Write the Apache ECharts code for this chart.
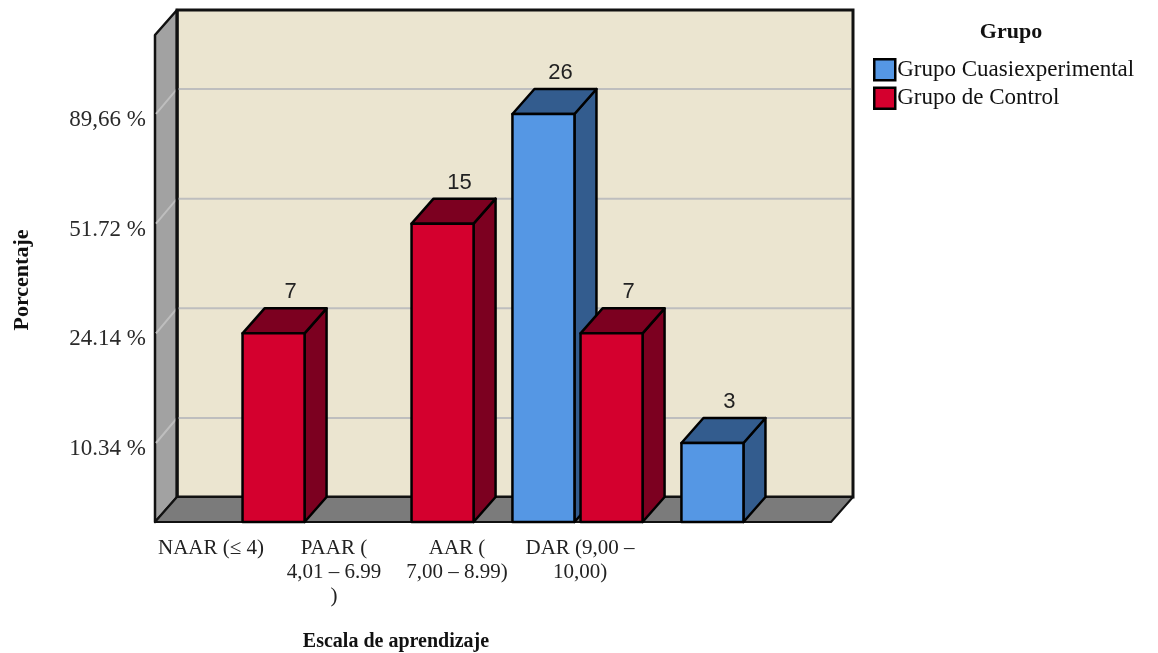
<!DOCTYPE html>
<html>
<head>
<meta charset="utf-8">
<script src="https://cdn.jsdelivr.net/npm/echarts@6/dist/echarts.min.js"></script>
<style>
  html, body { margin: 0; padding: 0; background: #fff; }
  #chart { width: 1158px; height: 653px; }
</style>
</head>
<body>
<div id="chart"></div>
<script>
// Learning-scale categories and counts per group
const categories = ['NAAR (≤ 4)', 'PAAR (\n4,01 – 6.99\n)', 'AAR (\n7,00 – 8.99)', 'DAR (9,00 –\n10,00)'];
const cuasiCounts = [null, null, 26, 3];
const controlCounts = [7, 15, 7, null];
const seriesNames = ['Grupo Cuasiexperimental', 'Grupo de Control'];

// Value axis ticks: counts and their percentage labels
const tickCounts = [3, 7, 15, 26];
const tickLabels = ['10.34 %', '24.14 %', '51.72 %', '89,66 %'];

// Drawing constants
const BASE_LEVEL = 0.28;    // floor position on the level scale
const TOP_LEVEL = 4.72;     // top of the walls on the level scale
const DX = 22, DY = 25;     // depth offset of the 3D box
const COLORS = {
  wall: '#EBE5D0', side: '#A2A2A2', floor: '#7B7B7B', grid: '#BEBEBE',
  blue: '#5597E4', blueDark: '#335C8E', red: '#D4002E', redDark: '#7C0020'
};

// Piecewise scale: each tick count sits on an evenly spaced level
function toLevel(v) {
  const xs = [0].concat(tickCounts);
  const ys = [BASE_LEVEL].concat(tickCounts.map((_, i) => i + 1));
  for (let i = 1; i < xs.length; i++) {
    if (v <= xs[i]) return ys[i - 1] + (v - xs[i - 1]) / (xs[i] - xs[i - 1]) * (ys[i] - ys[i - 1]);
  }
  const n = xs.length - 1;
  return ys[n] + (v - xs[n]) / (xs[n] - xs[n - 1]) * (ys[n] - ys[n - 1]);
}

function toData(arr) {
  const out = [];
  arr.forEach((v, i) => { if (v != null) out.push([i, v]); });
  return out;
}

const chart = echarts.init(document.getElementById('chart'));

// Back wall, side wall, floor and grid lines
function renderFrame(params, api) {
  const cs = params.coordSys;
  const x0 = cs.x, x1 = cs.x + cs.width;
  const yTop = api.coord([0, TOP_LEVEL])[1];
  const yBase = api.coord([0, BASE_LEVEL])[1];
  const children = [];
  // back wall
  children.push({ type: 'rect', shape: { x: x0 + DX, y: yTop - DY, width: x1 - x0, height: yBase - yTop },
    style: { fill: COLORS.wall, stroke: '#111', lineWidth: 3 } });
  // left side wall
  children.push({ type: 'polygon', shape: { points: [[x0, yTop], [x0 + DX, yTop - DY], [x0 + DX, yBase - DY], [x0, yBase]] },
    style: { fill: COLORS.side, stroke: '#111', lineWidth: 2.5, lineJoin: 'round' } });
  // grid lines on side and back walls
  tickCounts.forEach(c => {
    const y = api.coord([0, toLevel(c)])[1];
    children.push({ type: 'polyline', shape: { points: [[x0 + 1, y], [x0 + DX, y - DY], [x1 + DX - 2, y - DY]] },
      style: { fill: null, stroke: COLORS.grid, lineWidth: 2 } });
  });
  // redraw the wall seam over the grid lines
  children.push({ type: 'line', shape: { x1: x0 + DX, y1: yTop - DY, x2: x0 + DX, y2: yBase - DY },
    style: { stroke: '#111', lineWidth: 3 } });
  // floor
  children.push({ type: 'polygon', shape: { points: [[x0, yBase], [x0 + DX, yBase - DY], [x1 + DX, yBase - DY], [x1, yBase]] },
    style: { fill: COLORS.floor, stroke: '#111', lineWidth: 2, lineJoin: 'round' } });
  return { type: 'group', children: children };
}

// One 3D bar: front face, top face, right face and the count label
function makeBarRenderer(side, front, dark) {
  return function (params, api) {
    const cat = api.value(0), v = api.value(1);
    const band = api.size([1, 0])[0];
    const barW = band * 0.367, gap = band * 0.036;
    const center = api.coord([cat, BASE_LEVEL])[0];
    const xl = side < 0 ? center - gap / 2 - barW : center + gap / 2;
    const xr = xl + barW;
    const yTop = api.coord([cat, toLevel(v)])[1];
    const yBase = api.coord([cat, BASE_LEVEL])[1];
    const st = { stroke: '#000', lineWidth: 2.5, lineJoin: 'round' };
    return {
      type: 'group',
      children: [
        { type: 'polygon', shape: { points: [[xr, yTop], [xr + DX, yTop - DY], [xr + DX, yBase - DY], [xr, yBase]] },
          style: Object.assign({ fill: dark }, st) },
        { type: 'polygon', shape: { points: [[xl, yTop], [xl + DX, yTop - DY], [xr + DX, yTop - DY], [xr, yTop]] },
          style: Object.assign({ fill: dark }, st) },
        { type: 'rect', shape: { x: xl, y: yTop, width: barW, height: yBase - yTop },
          style: Object.assign({ fill: front }, st) },
        { type: 'text', x: (xl + xr) / 2 + DX / 2 + 6, y: yTop - DY - 5,
          style: { text: String(v), fill: '#222', font: '22px "Liberation Sans", Arial, sans-serif',
            align: 'center', verticalAlign: 'bottom' } }
      ]
    };
  };
}

const serifFont = '"Liberation Serif", "Times New Roman", serif';

chart.setOption({
  animation: false,
  grid: [
    { left: 155, right: 327, top: 35, bottom: 100.3 },
    { left: 149.5, width: 492, top: 400, bottom: 123 }
  ],
  xAxis: [
    { type: 'category', gridIndex: 0, data: categories, show: false },
    { type: 'category', gridIndex: 1, data: categories,
      axisLine: { show: false }, axisTick: { show: false },
      axisLabel: { margin: 6, fontFamily: serifFont, fontSize: 21, lineHeight: 24, color: '#222', interval: 0 } }
  ],
  yAxis: [
    { type: 'value', gridIndex: 0, min: 0, max: TOP_LEVEL, interval: 1,
      axisLine: { show: false }, axisTick: { show: false }, splitLine: { show: false },
      axisLabel: { margin: 9, fontFamily: serifFont, fontSize: 23, color: '#2a2a2a',
        formatter: v => (v >= 1 && v <= tickLabels.length ? '{t|' + tickLabels[v - 1] + '}' : ''),
        rich: { t: { fontFamily: serifFont, fontSize: 23, color: '#2a2a2a', padding: [12, 0, 0, 0] } } } },
    { type: 'value', gridIndex: 1, show: false }
  ],
  legend: {
    left: 868, top: 53, orient: 'vertical', itemWidth: 21, itemHeight: 21, itemGap: 5,
    textStyle: { fontFamily: serifFont, fontSize: 23, color: '#111', padding: [0, 0, 0, -3] },
    data: [
      { name: seriesNames[0], icon: 'rect', itemStyle: { color: COLORS.blue, borderColor: '#000', borderWidth: 2.5 } },
      { name: seriesNames[1], icon: 'rect', itemStyle: { color: COLORS.red, borderColor: '#000', borderWidth: 2.5 } }
    ]
  },
  graphic: [
    { type: 'text', x: 1011, y: 32, style: { text: 'Grupo', font: 'bold 22px ' + serifFont, fill: '#111', align: 'center', verticalAlign: 'middle' } },
    { type: 'text', x: 22, y: 280, rotation: Math.PI / 2, style: { text: 'Porcentaje', font: 'bold 22px ' + serifFont, fill: '#111', align: 'center', verticalAlign: 'middle' } },
    { type: 'text', x: 396, y: 642, style: { text: 'Escala de aprendizaje', font: 'bold 20px ' + serifFont, fill: '#111', align: 'center', verticalAlign: 'middle' } }
  ],
  series: [
    { type: 'custom', name: 'frame', xAxisIndex: 0, yAxisIndex: 0, z: 1, silent: true,
      data: [[0, 0]], renderItem: renderFrame },
    { type: 'custom', name: seriesNames[0], xAxisIndex: 0, yAxisIndex: 0, z: 2,
      itemStyle: { color: COLORS.blue }, encode: { x: 0, y: 1 },
      data: toData(cuasiCounts), renderItem: makeBarRenderer(-1, COLORS.blue, COLORS.blueDark) },
    { type: 'custom', name: seriesNames[1], xAxisIndex: 0, yAxisIndex: 0, z: 2,
      itemStyle: { color: COLORS.red }, encode: { x: 0, y: 1 },
      data: toData(controlCounts), renderItem: makeBarRenderer(1, COLORS.red, COLORS.redDark) }
  ]
});
</script>
</body>
</html>
